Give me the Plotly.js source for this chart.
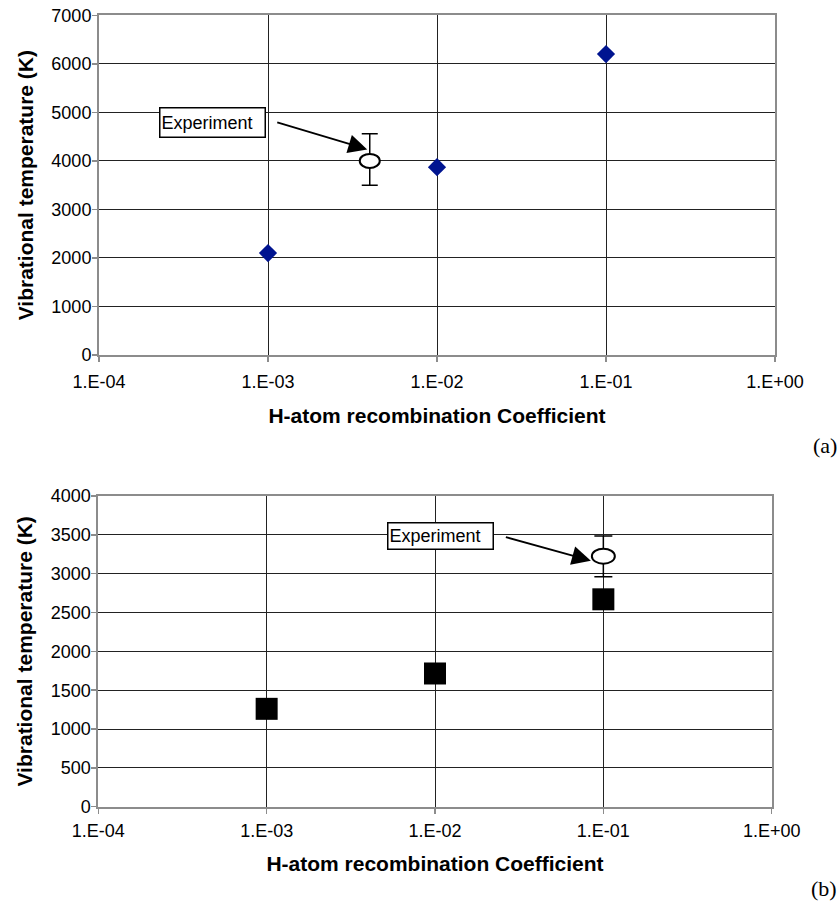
<!DOCTYPE html>
<html>
<head>
<meta charset="utf-8">
<script src="https://cdn.plot.ly/plotly-3.0.1.min.js"></script>
<style>html,body{margin:0;padding:0;background:#fff;}#chart{width:840px;height:903px;}</style>
</head>
<body>
<div id="chart"></div>
<script>
// ---- data ----
const xTickVals = [1e-4, 1e-3, 1e-2, 1e-1, 1];
const xTickText = ['1.E-04', '1.E-03', '1.E-02', '1.E-01', '1.E+00'];

// panel (a)
const simA_x = [1e-3, 1e-2, 1e-1];
const simA_y = [2100, 3870, 6200];
const expA_x = [4e-3];
const expA_y = [4000];
const expA_errPlus = [560];
const expA_errMinus = [500];

// panel (b)
const simB_x = [1e-3, 1e-2, 1e-1];
const simB_y = [1260, 1715, 2670];
const expB_x = [0.1];
const expB_y = [3225];
const expB_errPlus = [260];
const expB_errMinus = [265];

const expLabel = 'Experiment';
const panelLabels = ['(a)', '(b)'];
const xTitle = 'H-atom recombination Coefficient';
const yTitle = 'Vibrational temperature (K)';

// ---- styling ----
const W = 840, H = 903;
const tickFont = {family: 'Liberation Sans, Arial, sans-serif', size: 18, color: '#000'};
const titleFont = {family: 'Liberation Sans, Arial, sans-serif', size: 21, color: '#000', weight: 'bold'};
const gridColor = '#222';
const frameColor = '#8c8c8c';
const logRange = [-4, 0];

function xAxis(domain, anchor, lblOff, tStand) {
  return {
    type: 'log', range: logRange, domain: domain, anchor: anchor,
    tickvals: xTickVals, ticktext: xTickText,
    ticks: 'outside', ticklen: 5, tickwidth: 1.5, tickcolor: frameColor,
    ticklabelstandoff: lblOff,
    showgrid: true, gridcolor: gridColor, gridwidth: 1,
    showline: true, linecolor: frameColor, linewidth: 2, mirror: true,
    tickfont: tickFont, zeroline: false,
    title: {text: xTitle, font: titleFont, standoff: tStand}
  };
}
// invisible linear twin of a log axis (in log10 units) used to anchor pixel-sized shapes
function twinAxis(over, anchor) {
  return {overlaying: over, anchor: anchor, range: logRange, visible: false, showgrid: false, zeroline: false};
}
function yAxis(domain, anchor, maxV, dt) {
  return {
    range: [0, maxV], dtick: dt, domain: domain, anchor: anchor,
    ticks: 'outside', ticklen: 5, tickwidth: 1.5, tickcolor: frameColor,
    ticklabelstandoff: -3,
    showgrid: true, gridcolor: gridColor, gridwidth: 1,
    showline: true, linecolor: frameColor, linewidth: 2, mirror: true,
    tickfont: tickFont, zeroline: false,
    title: {text: yTitle, font: titleFont, standoff: 12}
  };
}

const traces = [
  {x: simA_x, y: simA_y, xaxis: 'x', yaxis: 'y', mode: 'markers', type: 'scatter',
   marker: {symbol: 'diamond', size: 14, color: '#001490'}, showlegend: false},
  {x: expA_x, y: expA_y, xaxis: 'x', yaxis: 'y', mode: 'markers', type: 'scatter',
   marker: {size: 1, color: 'rgba(0,0,0,0)'}, showlegend: false,
   error_y: {type: 'data', symmetric: false, array: expA_errPlus, arrayminus: expA_errMinus,
             color: '#000', thickness: 1.5, width: 8}},
  {x: simB_x, y: simB_y, xaxis: 'x2', yaxis: 'y2', mode: 'markers', type: 'scatter',
   marker: {symbol: 'square', size: 22, color: '#000'}, showlegend: false},
  {x: expB_x, y: expB_y, xaxis: 'x2', yaxis: 'y2', mode: 'markers', type: 'scatter',
   marker: {size: 1, color: 'rgba(0,0,0,0)'}, showlegend: false,
   error_y: {type: 'data', symmetric: false, array: expB_errPlus, arrayminus: expB_errMinus,
             color: '#000', thickness: 1.5, width: 9}}
];

function ellipse(xr, yr, xv, yv, hw, hh) {
  return {type: 'circle', xref: xr, yref: yr, layer: 'above',
    xsizemode: 'pixel', ysizemode: 'pixel',
    xanchor: Math.log10(xv), yanchor: yv,
    x0: -hw, x1: hw, y0: -hh, y1: hh,
    fillcolor: '#fff', line: {color: '#000', width: 2}};
}

const shapes = [
  ellipse('x3', 'y', expA_x[0], expA_y[0], 10, 7),
  ellipse('x4', 'y2', expB_x[0], expB_y[0], 11.5, 7.5)
];

const boxFont = {family: 'Liberation Sans, Arial, sans-serif', size: 18, color: '#000'};
const annotations = [
  // panel (a) label box
  {xref: 'x', yref: 'y', x: Math.log10(expA_x[0]), y: expA_y[0], text: expLabel, showarrow: false,
   xshift: -157, yshift: 38.5, font: boxFont, bordercolor: '#000', borderwidth: 1.5, borderpad: 1,
   bgcolor: '#fff', width: 102, height: 26, align: 'left'},
  // panel (a) arrow
  {xref: 'x', yref: 'y', x: Math.log10(expA_x[0]), y: expA_y[0], text: '', showarrow: true,
   xshift: -2.5, yshift: 11.5,
   ax: -91.5, ay: -27.5, arrowhead: 2, arrowsize: 2.1, arrowwidth: 1.8, arrowcolor: '#000', standoff: 0},
  // panel (b) label box
  {xref: 'x2', yref: 'y2', x: Math.log10(expB_x[0]), y: expB_y[0], text: expLabel, showarrow: false,
   xshift: -163, yshift: 20, font: boxFont, bordercolor: '#000', borderwidth: 1.5, borderpad: 1,
   bgcolor: '#fff', width: 102, height: 23, align: 'left'},
  // panel (b) arrow
  {xref: 'x2', yref: 'y2', x: Math.log10(expB_x[0]), y: expB_y[0], text: '', showarrow: true,
   xshift: -12.5, yshift: -4.5,
   ax: -86.5, ay: -24, arrowhead: 2, arrowsize: 2.1, arrowwidth: 1.8, arrowcolor: '#000', standoff: 0},
  // panel labels
  {xref: 'paper', yref: 'paper', x: 825 / W, y: 1 - 445 / H, xanchor: 'center', yanchor: 'middle',
   text: panelLabels[0], showarrow: false,
   font: {family: 'Liberation Serif, Times New Roman, serif', size: 22, color: '#000'}},
  {xref: 'paper', yref: 'paper', x: 824 / W, y: 1 - 888 / H, xanchor: 'center', yanchor: 'middle',
   text: panelLabels[1], showarrow: false,
   font: {family: 'Liberation Serif, Times New Roman, serif', size: 22, color: '#000'}}
];

const layout = {
  width: W, height: H,
  margin: {l: 0, r: 0, t: 0, b: 0},
  paper_bgcolor: '#fff', plot_bgcolor: '#fff',
  showlegend: false,
  xaxis: xAxis([99 / W, 775 / W], 'y', 4, 18),
  yaxis: yAxis([1 - 355 / H, 1 - 15.3 / H], 'x', 7000, 1000),
  xaxis2: xAxis([98.3 / W, 771.7 / W], 'y2', 2, 16),
  yaxis2: yAxis([1 - 806.7 / H, 1 - 496 / H], 'x2', 4000, 500),
  xaxis3: twinAxis('x', 'y'),
  xaxis4: twinAxis('x2', 'y2'),
  shapes: shapes,
  annotations: annotations
};

Plotly.newPlot('chart', traces, layout, {displayModeBar: false, staticPlot: true});
</script>
</body>
</html>
